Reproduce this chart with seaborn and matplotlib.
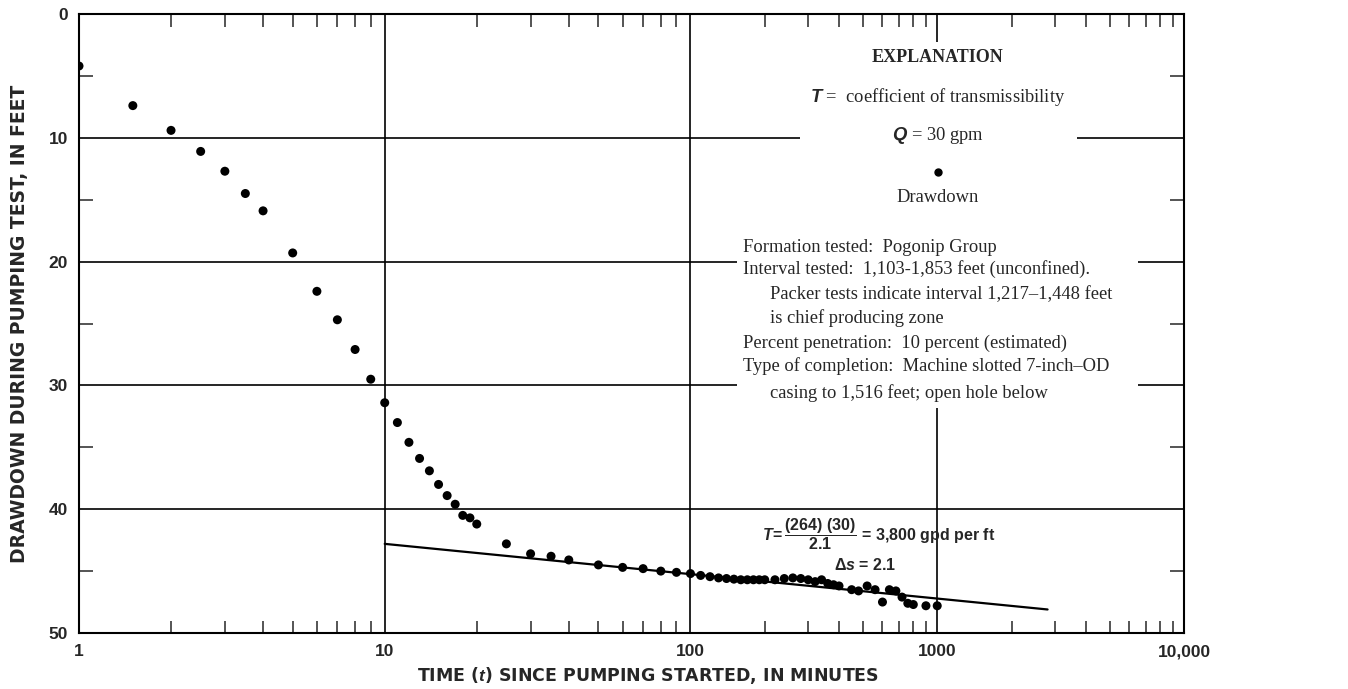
import numpy as np
import pandas as pd
import matplotlib
matplotlib.use("Agg")
import matplotlib.pyplot as plt
import seaborn as sns
from matplotlib.patches import Rectangle
from matplotlib.ticker import FixedLocator, NullFormatter

# drawdown readings (time in minutes, drawdown in feet)
time_min = [1, 1.5, 2, 2.5, 3, 3.5, 4, 5, 6, 7, 8, 9, 10, 11, 12, 13, 14, 15, 16, 17,
            18, 19, 20, 25, 30, 35, 40, 50, 60, 70, 80, 90, 100, 110, 120, 130, 140, 150,
            160, 170, 180, 190, 200, 220, 240, 260, 280, 300, 320, 340, 360, 380, 400,
            450, 480, 520, 560, 600, 640, 680, 720, 760, 800, 900, 1000]
drawdown_ft = [4.2, 7.4, 9.4, 11.1, 12.7, 14.5, 15.9, 19.3, 22.4, 24.7, 27.1, 29.5, 31.4,
               33.0, 34.6, 35.9, 36.9, 38.0, 38.9, 39.6, 40.5, 40.7, 41.2, 42.8, 43.6, 43.8,
               44.1, 44.5, 44.7, 44.8, 45.0, 45.1, 45.2, 45.35, 45.45, 45.55, 45.6, 45.65,
               45.7, 45.7, 45.7, 45.7, 45.7, 45.7, 45.6, 45.55, 45.6, 45.7, 45.85, 45.7,
               46.0, 46.1, 46.2, 46.5, 46.6, 46.2, 46.5, 47.5, 46.5, 46.6, 47.1, 47.6,
               47.7, 47.8, 47.8]

# straight line fitted through the late data
fit_t = [10, 2800]
fit_s = [42.8, 48.1]

x_ticks = [1, 10, 100, 1000, 10000]
x_ticklabels = ["1", "10", "100", "1000", "10,000"]
y_ticks = [0, 10, 20, 30, 40, 50]

data = pd.DataFrame({"t": time_min, "s": drawdown_ft})
fit = pd.DataFrame({"t": fit_t, "s": fit_s})

sns.set_theme(style="ticks")
plt.rcParams["font.family"] = ["Liberation Sans", "DejaVu Sans"]
plt.rcParams["mathtext.fontset"] = "custom"
plt.rcParams["mathtext.it"] = "Liberation Sans:bold:italic"
plt.rcParams["mathtext.rm"] = "Liberation Sans:bold"
plt.rcParams["mathtext.bf"] = "Liberation Sans:bold"

# the printed sheet has shorter decades beyond 100 minutes
K = 247 / 306


def fwd(t):
    u = np.log10(np.maximum(t, 1e-12))
    return np.where(u <= 2, u, 2 + (u - 2) * K)


def inv(u):
    u = np.asarray(u, dtype=float)
    return np.where(u <= 2, 10.0 ** u, 10.0 ** (2 + (u - 2) / K))


fig = plt.figure(figsize=(13.48, 6.89), dpi=100)
ax = fig.add_axes([79 / 1348, 1 - 633 / 689, 1105 / 1348, 619 / 689])
ax.set_xscale("function", functions=(fwd, inv))
ax.set_xlim(1, 10000)
ax.set_ylim(50, 0)

ax.grid(True, which="major", color="black", linewidth=1.2)
ax.set_axisbelow(True)

sns.lineplot(data=fit, x="t", y="s", color="black", linewidth=1.6, estimator=None,
             ax=ax, zorder=3)
sns.scatterplot(data=data, x="t", y="s", color="black", s=42, edgecolor="none",
                ax=ax, zorder=4)

ax.set_xticks(x_ticks)
ax.set_xticklabels(x_ticklabels)
ax.xaxis.set_minor_locator(FixedLocator([m * 10 ** d for d in range(4) for m in range(2, 10)]))
ax.xaxis.set_minor_formatter(NullFormatter())
ax.set_yticks(y_ticks)
ax.set_yticklabels([str(v) for v in y_ticks])
ax.yaxis.set_minor_locator(FixedLocator([5, 15, 25, 35, 45]))

ax.tick_params(which="both", direction="in", top=True, right=True, bottom=True, left=True,
               labelsize=12.5, pad=8)
ax.tick_params(which="major", length=0)
ax.tick_params(axis="x", which="minor", length=9, width=1.1)
ax.tick_params(axis="y", which="minor", length=10, width=1.1)
for lab in ax.get_xticklabels() + ax.get_yticklabels():
    lab.set_fontweight("bold")

for sp in ax.spines.values():
    sp.set_linewidth(1.5)
    sp.set_color("black")

ax.set_xlabel("TIME ($t$) SINCE PUMPING STARTED, IN MINUTES", fontsize=12.5,
              fontweight="bold", family="DejaVu Sans")
ax.xaxis.set_label_coords(0.515, -0.052)
ax.set_ylabel("DRAWDOWN DURING PUMPING TEST, IN FEET", fontsize=13.5,
              fontweight="bold", family="DejaVu Sans")
ax.yaxis.set_label_coords(-0.045, 0.5)


def ax_x(px):
    return (px - 79) / 1105


def ax_y(py):
    return (633 - py) / 619


# white panels behind the explanation text
ax.add_patch(Rectangle((ax_x(800), ax_y(228)), ax_x(1077) - ax_x(800), ax_y(42) - ax_y(228),
                       transform=ax.transAxes, facecolor="white", edgecolor="none", zorder=2))
ax.add_patch(Rectangle((ax_x(737), ax_y(408)), ax_x(1138) - ax_x(737), ax_y(228) - ax_y(408),
                       transform=ax.transAxes, facecolor="white", edgecolor="none", zorder=2))

serif = "Liberation Serif"
fs = 13.3
cx = ax_x(938)
ax.text(cx, ax_y(57), "EXPLANATION", transform=ax.transAxes, ha="center", va="center",
        family=serif, fontweight="bold", fontsize=13, zorder=5)
ax.text(cx, ax_y(97), "$T$ =  coefficient of transmissibility", transform=ax.transAxes,
        ha="center", va="center", family=serif, fontsize=fs, zorder=5)
ax.text(cx, ax_y(136), "$Q$ = 30 gpm", transform=ax.transAxes, ha="center", va="center",
        family=serif, fontsize=fs, zorder=5)
ax.plot([cx], [ax_y(172)], "o", color="black", markersize=5, transform=ax.transAxes, zorder=5)
ax.text(cx, ax_y(198), "Drawdown", transform=ax.transAxes, ha="center", va="center",
        family=serif, fontsize=fs, zorder=5)

notes = [
    (743, 247, "Formation tested:  Pogonip Group"),
    (743, 269, "Interval tested:  1,103-1,853 feet (unconfined)."),
    (770, 295, "Packer tests indicate interval 1,217\u20131,448 feet"),
    (770, 318, "is chief producing zone"),
    (743, 343, "Percent penetration:  10 percent (estimated)"),
    (743, 366, "Type of completion:  Machine slotted 7-inch\u2013OD"),
    (770, 393, "casing to 1,516 feet; open hole below"),
]
for px, py, txt in notes:
    ax.text(ax_x(px), ax_y(py), txt, transform=ax.transAxes, ha="left", va="center",
            family=serif, fontsize=fs, zorder=5)

ax.text(ax_x(995), ax_y(534), r"$T\!=\dfrac{(264)\ (30)}{2.1}$ = 3,800 gpd per ft",
        transform=ax.transAxes, ha="right", va="center", fontsize=11.5, fontweight="bold",
        zorder=5)
ax.text(ax_x(865), ax_y(565), r"$\Delta s$ = 2.1", transform=ax.transAxes, ha="center",
        va="center", fontsize=11.5, fontweight="bold", zorder=5)

fig.savefig("out.png", dpi=100)
